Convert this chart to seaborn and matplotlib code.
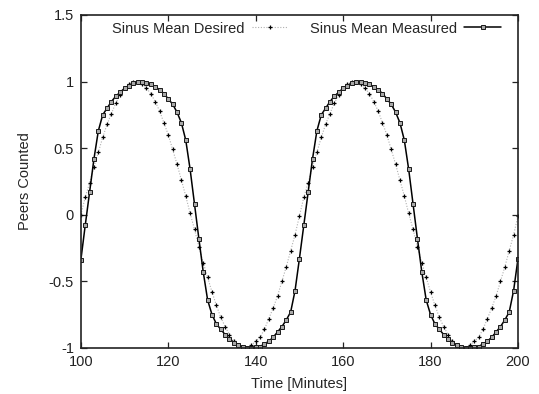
import matplotlib
matplotlib.use("Agg")
import matplotlib.pyplot as plt
import seaborn as sns
import pandas as pd

# Time axis (minutes)
time_minutes = list(range(100, 201))

# Sinus Mean Desired (one point per minute)
desired = [
    0.00, 0.13, 0.24, 0.36, 0.47, 0.58, 0.68, 0.76, 0.84, 0.90,
    0.95, 0.98, 1.00, 1.00, 0.98, 0.95, 0.91, 0.85, 0.78, 0.69,
    0.60, 0.49, 0.38, 0.26, 0.14, 0.01, -0.11, -0.24, -0.36, -0.47,
    -0.58, -0.68, -0.77, -0.84, -0.90, -0.95, -0.98, -1.00, -1.00, -0.98,
    -0.95, -0.92, -0.86, -0.78, -0.70, -0.61, -0.50, -0.39, -0.27, -0.15,
    -0.01, 0.13, 0.24, 0.36, 0.47, 0.58, 0.68, 0.76, 0.84, 0.90,
    0.95, 0.98, 1.00, 1.00, 0.98, 0.95, 0.91, 0.85, 0.78, 0.69,
    0.60, 0.49, 0.38, 0.26, 0.14, 0.01, -0.11, -0.24, -0.36, -0.47,
    -0.58, -0.68, -0.77, -0.84, -0.90, -0.95, -0.98, -1.00, -1.00, -0.98,
    -0.95, -0.92, -0.86, -0.78, -0.70, -0.61, -0.50, -0.39, -0.27, -0.15,
    -0.01,
]

# Sinus Mean Measured (one point per minute)
measured = [
    -0.34, -0.08, 0.17, 0.42, 0.63, 0.75, 0.80, 0.85, 0.89, 0.92,
    0.95, 0.97, 0.99, 1.00, 1.00, 0.99, 0.98, 0.96, 0.94, 0.91,
    0.87, 0.83, 0.77, 0.69, 0.56, 0.34, 0.08, -0.18, -0.43, -0.64,
    -0.75, -0.82, -0.86, -0.90, -0.93, -0.96, -0.98, -0.99, -1.00, -1.00,
    -0.99, -0.99, -0.97, -0.95, -0.92, -0.88, -0.84, -0.79, -0.73, -0.57,
    -0.33, -0.08, 0.17, 0.42, 0.63, 0.75, 0.80, 0.85, 0.89, 0.92,
    0.95, 0.97, 0.99, 1.00, 1.00, 0.99, 0.98, 0.96, 0.94, 0.91,
    0.87, 0.83, 0.77, 0.69, 0.56, 0.34, 0.08, -0.18, -0.43, -0.64,
    -0.75, -0.82, -0.86, -0.90, -0.93, -0.96, -0.98, -0.99, -1.00, -1.00,
    -0.99, -0.99, -0.97, -0.95, -0.92, -0.88, -0.84, -0.79, -0.73, -0.57,
    -0.33,
]

x_ticks = [100, 120, 140, 160, 180, 200]
y_ticks = [-1, -0.5, 0, 0.5, 1, 1.5]
y_tick_labels = ["-1", "-0.5", "0", "0.5", "1", "1.5"]

df = pd.DataFrame({"time": time_minutes, "desired": desired, "measured": measured})

sns.set_style("ticks")
plt.rcParams["font.family"] = ["Liberation Sans", "DejaVu Sans"]

fig = plt.figure(figsize=(5.39, 3.94), dpi=100)
ax = fig.add_axes([0.150, 0.117, 0.811, 0.845])

sns.lineplot(data=df, x="time", y="desired", ax=ax, color="#b0b0b0",
             linestyle=(0, (1, 1.5)), linewidth=0.8, marker="+",
             markersize=3.3, markeredgecolor="black", markeredgewidth=0.9,
             label="Sinus Mean Desired")
sns.lineplot(data=df, x="time", y="measured", ax=ax, color="black",
             linewidth=1.1, marker="s", markersize=3.2,
             markerfacecolor="#a8a8a8", markeredgecolor="#1a1a1a",
             markeredgewidth=0.7, label="Sinus Mean Measured")

ax.set_xlim(100, 200)
ax.set_ylim(-1, 1.5)
ax.set_xticks(x_ticks)
ax.set_xticklabels([str(v) for v in x_ticks])
ax.set_yticks(y_ticks)
ax.set_yticklabels(y_tick_labels)
ax.tick_params(direction="in", top=True, right=True, length=4, width=0.9,
               labelsize=10.5, colors="#222222", pad=5)
for s in ax.spines.values():
    s.set_linewidth(1.2)
    s.set_color("#222222")
    s.set_visible(True)

ax.set_xlabel("Time [Minutes]", fontsize=10.5, labelpad=6)
ax.set_ylabel("Peers Counted", fontsize=10.5, labelpad=12)

ax.legend(loc="upper center", bbox_to_anchor=(0.516, 1.0), ncol=2,
          frameon=False, markerfirst=False, fontsize=10.5, handlelength=2.5,
          columnspacing=1.5, handletextpad=0.5, borderaxespad=0.05)

fig.savefig("out.png", dpi=100)
